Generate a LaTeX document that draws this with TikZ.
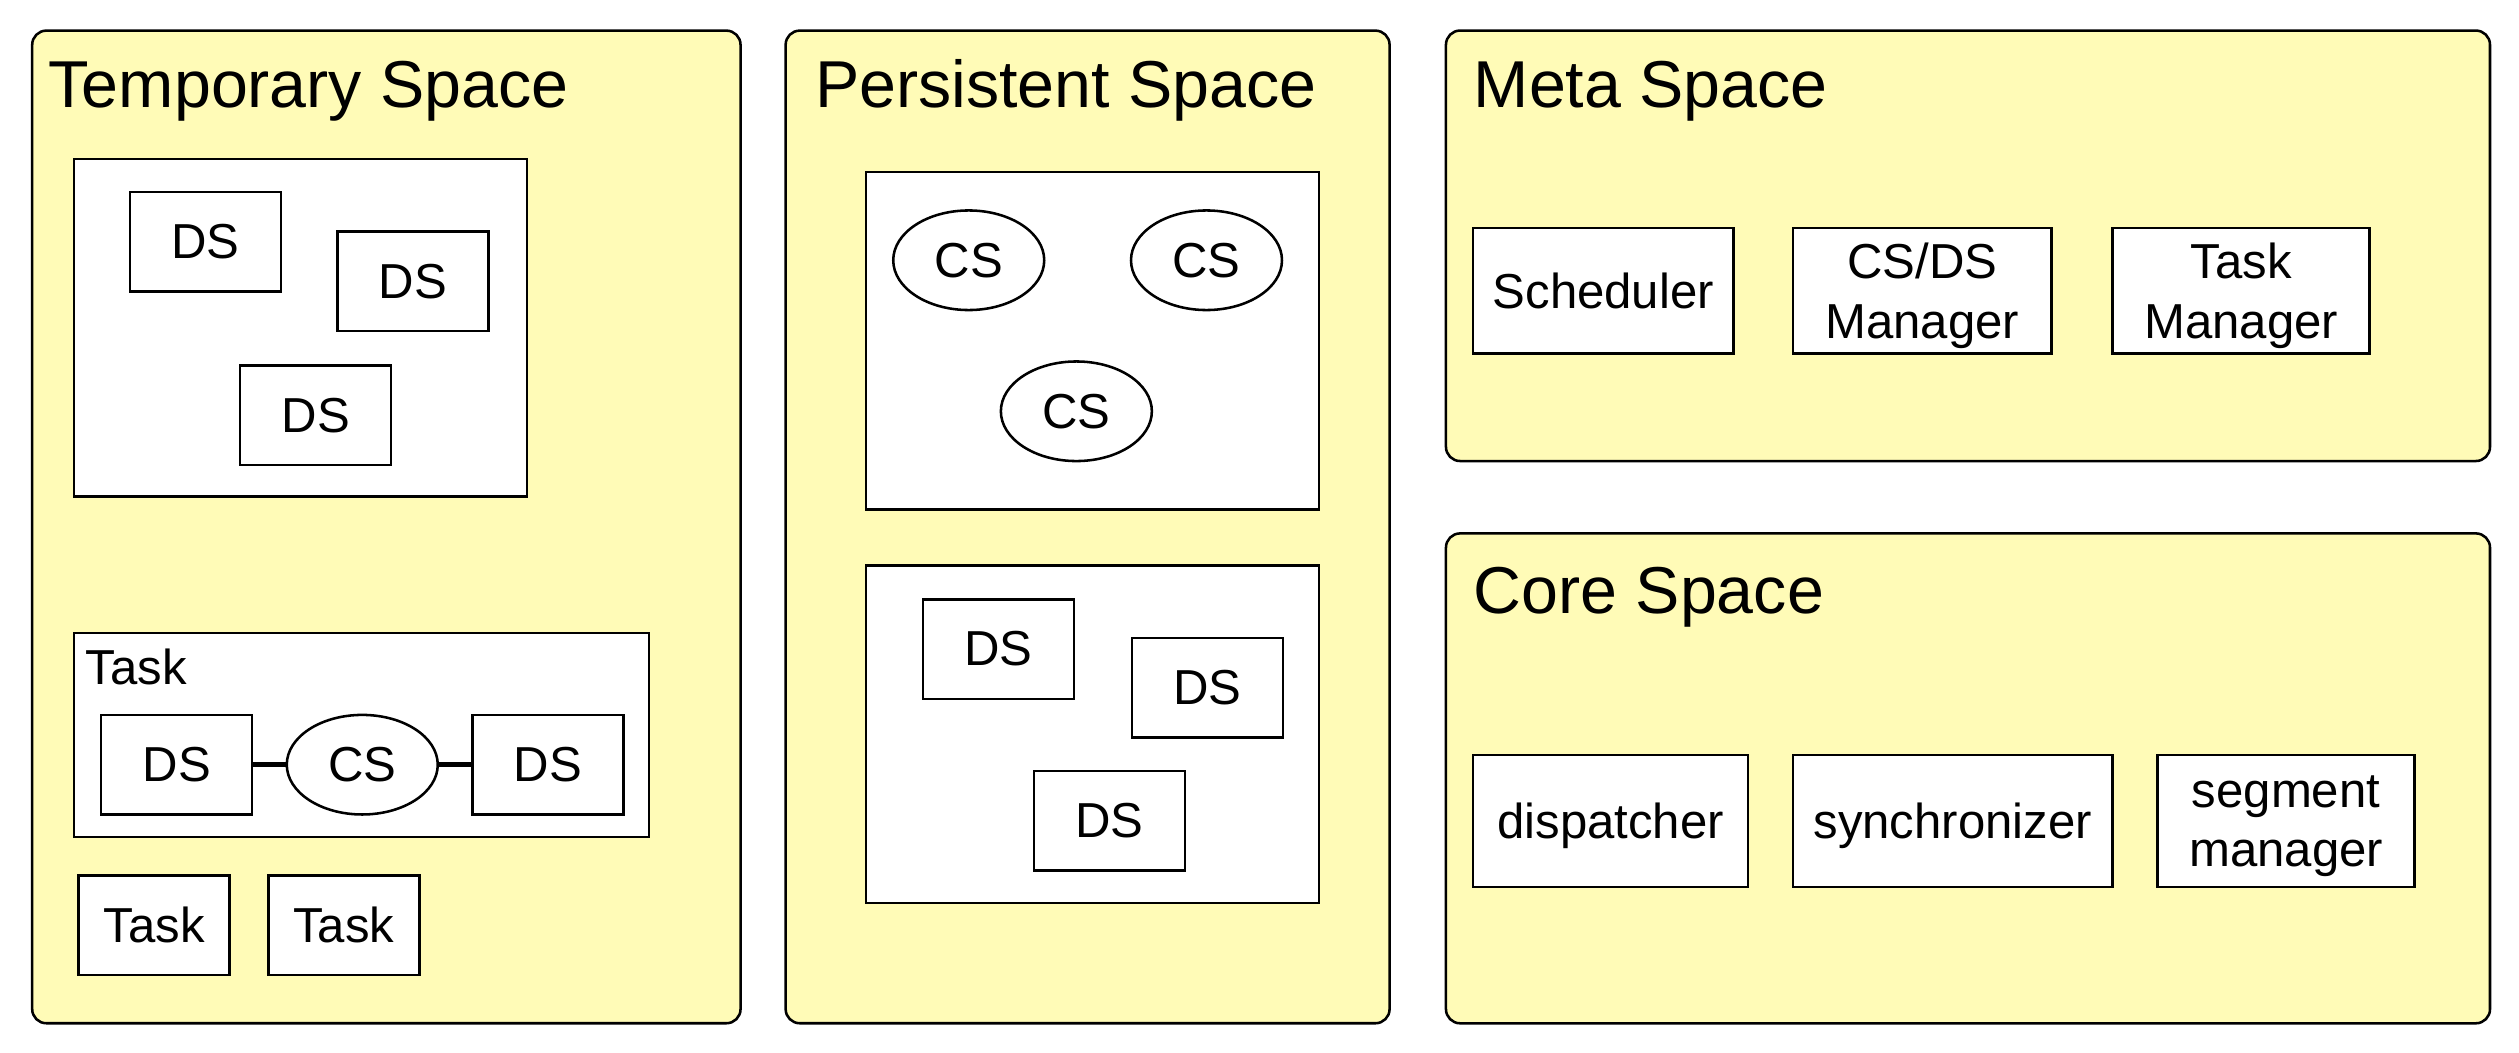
\documentclass[tikz,border=0pt]{standalone}
\usepackage{fontspec}
\setmainfont{Liberation Sans}
\usetikzlibrary{shapes.geometric}
\definecolor{spaceyellow}{HTML}{FFFBB7}
\begin{document}
\begin{tikzpicture}[x=0.02cm,y=-0.02cm,
	space/.style={draw,line width=0.9pt,fill=spaceyellow,rounded corners=5pt,inner sep=0pt},
	title/.style={anchor=base west,inner sep=0pt,font=\fontsize{23.5}{28}\selectfont},
	group/.style={draw,line width=0.9pt,fill=white,inner sep=0pt},
	ds/.style={draw,line width=0.9pt,fill=white,inner sep=0pt,minimum width=1.88cm,minimum height=1.24cm,font=\fontsize{17.4}{21}\selectfont},
	cs/.style={ds,ellipse},
	comp/.style={ds,align=center,text depth=0pt,minimum height=1.56cm},
	link/.style={line width=1.8pt}]
		\useasboundingbox (0,0) rectangle (1568,655);
		% spaces
		\node[space,minimum width=8.82cm,minimum height=12.36cm] (temp) at (240.5,328) {};
		\node[space,minimum width=7.52cm,minimum height=12.36cm] (pers) at (677,328) {};
		\node[space,minimum width=13cm,minimum height=5.36cm] (meta) at (1225,153) {};
		\node[space,minimum width=13cm,minimum height=6.1cm] (core) at (1225,484.5) {};
		\node[title] (temptitle) at (30,67) {Temporary Space};
		\node[title] (perstitle) at (507,67) {Persistent Space};
		\node[title] (metatitle) at (917,67) {Meta Space};
		\node[title] (coretitle) at (917,382) {Core Space};
		% temporary space
		\node[group,minimum width=5.64cm,minimum height=4.2cm] (tgroup) at (187,204) {};
		\node[ds] (tds1) at (128,150.5) {DS};
		\node[ds] (tds2) at (257,175) {DS};
		\node[ds] (tds3) at (196.5,258.5) {DS};
		\node[group,minimum width=7.16cm,minimum height=2.54cm] (task) at (225,457.5) {};
		\node[anchor=base west,inner sep=0pt,font=\fontsize{17.4}{21}\selectfont] (tasklabel) at (53,426) {Task};
		\node[ds] (kds1) at (110,476) {DS};
		\node[cs] (kcs) at (225.5,476) {CS};
		\node[ds] (kds2) at (341,476) {DS};
		\draw[link] (kds1) -- (kcs);
		\draw[link] (kcs) -- (kds2);
		\node[ds] (task1) at (96,576) {Task};
		\node[ds] (task2) at (214,576) {Task};
		% persistent space
		\node[group,minimum width=5.64cm,minimum height=4.2cm] (pgroup1) at (680,212) {};
		\node[cs] (pcs1) at (603,162) {CS};
		\node[cs] (pcs2) at (751,162) {CS};
		\node[cs] (pcs3) at (670,256) {CS};
		\node[group,minimum width=5.64cm,minimum height=4.2cm] (pgroup2) at (680,457) {};
		\node[ds] (pds1) at (621.5,404) {DS};
		\node[ds] (pds2) at (751.5,428) {DS};
		\node[ds] (pds3) at (690.5,511) {DS};
		% meta space
		\node[comp,minimum width=3.24cm] (sched) at (998,181) {Scheduler};
		\node[comp,minimum width=3.22cm] (csds) at (1196.5,181) {CS/DS\\Manager};
		\node[comp,minimum width=3.2cm] (taskman) at (1395,181) {Task\\Manager};
		% core space
		\node[comp,minimum width=3.42cm,minimum height=1.64cm] (disp) at (1002.5,511) {dispatcher};
		\node[comp,minimum width=3.98cm,minimum height=1.64cm] (sync) at (1215.5,511) {synchronizer};
		\node[comp,minimum width=3.2cm,minimum height=1.64cm] (segman) at (1423,511) {segment\\manager};
\end{tikzpicture}
\end{document}
